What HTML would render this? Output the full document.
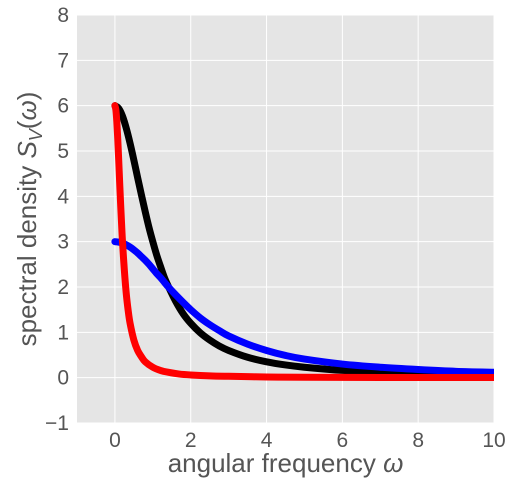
<!DOCTYPE html>
<html><head><meta charset="utf-8"><style>
body{margin:0;background:#fff;font-family:"Liberation Sans","DejaVu Sans",sans-serif}
</style></head><body>
<svg id="chart" width="514" height="487" xmlns="http://www.w3.org/2000/svg"></svg>
<script>
const xTicks=[0,2,4,6,8,10];
const yTicks=[-1,0,1,2,3,4,5,6,7,8];
const omegaBW=[0,0.1,0.2,0.3,0.4,0.5,0.6,0.7,0.8,0.9,1,1.1,1.2,1.3,1.4,1.6,1.8,2,2.25,2.5,2.75,3,3.5,4,4.5,5,6,7,8,9,10];
const blackVals=[6,5.94,5.77,5.50,5.17,4.80,4.41,4.03,3.66,3.31,3.0,2.71,2.46,2.22,2.03,1.69,1.41,1.2,0.99,0.83,0.70,0.6,0.45,0.35,0.28,0.23,0.16,0.12,0.09,0.07,0.06];
const blueVals=[3,2.99,2.97,2.93,2.88,2.82,2.75,2.67,2.59,2.50,2.4,2.30,2.21,2.11,2.01,1.83,1.66,1.5,1.32,1.17,1.04,0.92,0.74,0.6,0.49,0.41,0.3,0.23,0.18,0.14,0.12];
const omegaRed=[0,0.025,0.05,0.075,0.1,0.125,0.15,0.175,0.2,0.25,0.3,0.35,0.4,0.5,0.6,0.7,0.8,1,1.2,1.4,1.7,2,2.5,3,4,5,7,10];
const redVals=[6,5.91,5.65,5.27,4.8,4.31,3.84,3.41,3,2.36,1.85,1.48,1.2,0.83,0.6,0.46,0.35,0.23,0.16,0.12,0.08,0.06,0.04,0.03,0.015,0.01,0.005,0.004];

const L=77,R=494,T=15,B=423,xmin=-1,xmax=10,ymin=-1,ymax=8;
const sx=v=>L+(v-xmin)/(xmax-xmin)*(R-L);
const sy=v=>B-(v-ymin)/(ymax-ymin)*(B-T);
const svg=document.getElementById('chart');
const NS='http://www.w3.org/2000/svg';
function mk(tag,attrs,parent){const e=document.createElementNS(NS,tag);for(const k in attrs)e.setAttribute(k,attrs[k]);(parent||svg).appendChild(e);return e;}

const bg=mk('rect',{x:L,y:T,width:R-L,height:B-T,fill:'#e5e5e5'});



xTicks.forEach(t=>{
  const g=mk('line',{x1:sx(t),x2:sx(t),y1:T,y2:B,stroke:'#fff','stroke-width':1});
  
  
  const tx=mk('text',{x:sx(t),y:B+24,'text-anchor':'middle','font-size':21,fill:'#555'});
  tx.textContent=t;
  
  
});
yTicks.forEach(t=>{
  const g=mk('line',{x1:L,x2:R,y1:sy(t),y2:sy(t),stroke:'#fff','stroke-width':1});
  
  
  const tx=mk('text',{x:L-8,y:sy(t)+7,'text-anchor':'end','font-size':21,fill:'#555'});
  tx.textContent=t<0?'\u2212'+(-t):t;
  
  
});

const clip=mk('clipPath',{id:'pc'});mk('rect',{x:L,y:T,width:R-L,height:B-T},clip);
function line(xs,ys,color,name){
  const P=xs.map((x,i)=>[sx(x),sy(ys[i])]);
  let d='M'+P[0][0].toFixed(2)+','+P[0][1].toFixed(2);
  for(let i=0;i<P.length-1;i++){
    const p0=P[Math.max(0,i-1)],p1=P[i],p2=P[i+1],p3=P[Math.min(P.length-1,i+2)];
    const c1=[p1[0]+(p2[0]-p0[0])/6,p1[1]+(p2[1]-p0[1])/6];
    const c2=[p2[0]-(p3[0]-p1[0])/6,p2[1]-(p3[1]-p1[1])/6];
    d+=' C'+c1[0].toFixed(2)+','+c1[1].toFixed(2)+' '+c2[0].toFixed(2)+','+c2[1].toFixed(2)+' '+p2[0].toFixed(2)+','+p2[1].toFixed(2);
  }
  const p=mk('path',{d:d,fill:'none',stroke:color,'stroke-width':7,'stroke-linejoin':'round','stroke-linecap':'round','clip-path':'url(#pc)'});
  
  
}
line(omegaBW,blackVals,'#000','black-series');
line(omegaBW,blueVals,'#0000ff','blue-series');
line(omegaRed,redVals,'#ff0000','red-series');

const xl=mk('text',{x:(L+R)/2,y:472,'text-anchor':'middle','font-size':26,fill:'#555'});
xl.innerHTML='angular frequency <tspan font-style="italic">ω</tspan>';


const yl=mk('text',{x:0,y:0,'text-anchor':'middle','font-size':26,fill:'#555',transform:'translate(36,219) rotate(-90)'});
yl.innerHTML='spectral density <tspan font-style="italic">S</tspan><tspan font-style="italic" font-size="18" dy="6">V</tspan><tspan dy="-6">(</tspan><tspan font-style="italic">ω</tspan>)';


</script>
</body></html>
